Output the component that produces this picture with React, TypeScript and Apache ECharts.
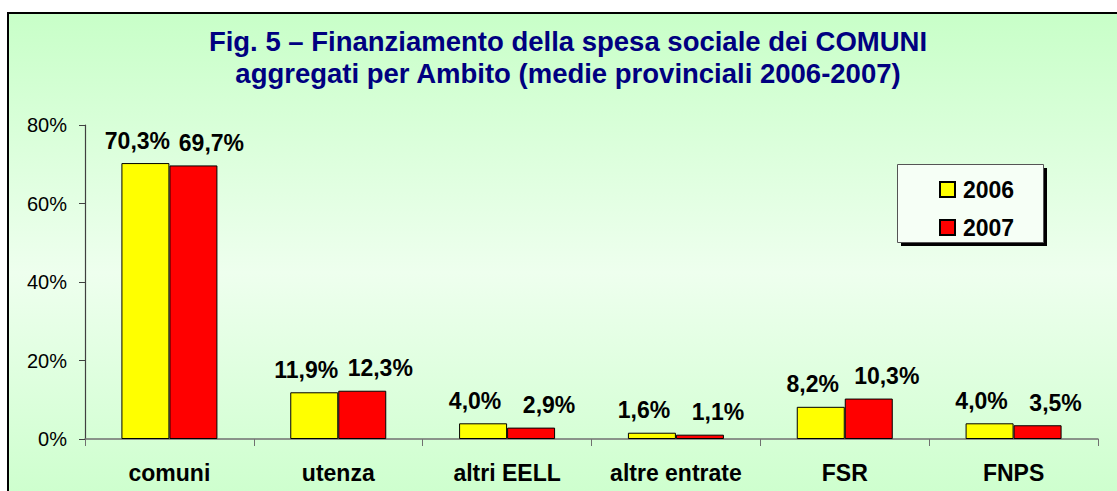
import React, { useEffect, useRef } from "react";
import * as echarts from "echarts";

const categories = ["comuni", "utenza", "altri EELL", "altre entrate", "FSR", "FNPS"];
const values2006 = [70.3, 11.9, 4.0, 1.6, 8.2, 4.0];
const values2007 = [69.7, 12.3, 2.9, 1.1, 10.3, 3.5];
const seriesNames = ["2006", "2007"];
const yTicks = { min: 0, max: 80, interval: 20 };
const titleLines = [
  "Fig. 5 – Finanziamento della spesa sociale dei COMUNI",
  "aggregati per Ambito (medie provinciali 2006-2007)",
];

const FONT = "'Liberation Sans', Arial, sans-serif";

export default function App() {
  const ref = useRef<HTMLDivElement>(null);
  useEffect(() => {
    document.body.style.margin = "0";
    document.body.style.overflow = "hidden";
    const chart = echarts.init(ref.current!, null, { renderer: "svg" });
    const fmt = (p: any) => p.value.toFixed(1).replace(".", ",") + "%";
    const labelStyle = {
      show: true,
      position: "top",
      distance: 11,
      fontFamily: FONT,
      fontWeight: "bold",
      fontSize: 23,
      color: "#000",
      formatter: fmt,
    };
    chart.setOption({
      animation: false,
      graphic: [
        {
          type: "rect",
          z: -10,
          silent: true,
          shape: { x: 8, y: 13, width: 1130, height: 520 },
          style: {
            fill: new echarts.graphic.LinearGradient(0, 0, 0, 1, [
              { offset: 0, color: "#C8FFC8" },
              { offset: 0.5, color: "#EEFFEE" },
              { offset: 1, color: "#C8FFC8" },
            ]),
            stroke: "#000",
            lineWidth: 2,
          },
        },
        {
          type: "text",
          z: 5,
          style: {
            text: titleLines.join("\n"),
            x: 568,
            y: 57,
            textAlign: "center",
            textVerticalAlign: "middle",
            font: `bold 27.5px ${FONT}`,
            lineHeight: 32,
            fill: "#000080",
          },
        },
        {
          type: "rect",
          z: 2,
          shape: { x: 901, y: 168, width: 146, height: 78 },
          style: { fill: "#000", stroke: "none" },
        },
        {
          type: "rect",
          z: 3,
          shape: { x: 897.5, y: 164.5, width: 146, height: 78 },
          style: { fill: "#F6FFF6", stroke: "#555", lineWidth: 1 },
        },
      ],
      legend: {
        orient: "vertical",
        left: 934,
        top: 173,
        itemWidth: 15,
        itemHeight: 15,
        itemGap: 15,
        icon: "rect",
        data: seriesNames,
        textStyle: {
          fontFamily: FONT,
          fontWeight: "bold",
          fontSize: 23,
          lineHeight: 23,
          color: "#000",
          padding: [0, 0, 0, 3],
        },
      },
      grid: { left: 85, right: 19, top: 125, bottom: 52 },
      xAxis: {
        type: "category",
        data: categories,
        axisLine: { lineStyle: { color: "#707070", width: 1.5 } },
        axisTick: { show: true, length: 7, lineStyle: { color: "#707070" } },
        axisLabel: {
          interval: 0,
          margin: 22,
          fontFamily: FONT,
          fontWeight: "bold",
          fontSize: 23,
          color: "#000",
        },
      },
      yAxis: {
        type: "value",
        min: yTicks.min,
        max: yTicks.max,
        interval: yTicks.interval,
        splitLine: { show: false },
        axisLine: { show: true, lineStyle: { color: "#404040", width: 1.2 } },
        axisTick: { show: true, length: 6, lineStyle: { color: "#404040" } },
        axisLabel: {
          margin: 18,
          fontFamily: FONT,
          fontSize: 20,
          color: "#000",
          formatter: "{value}%",
        },
      },
      series: [
        {
          name: seriesNames[0],
          type: "bar",
          data: values2006,
          barWidth: 48,
          barGap: "0%",
          itemStyle: { color: "#FFFF00", borderColor: "#000", borderWidth: 1 },
          label: { ...labelStyle, offset: [-8, 0] },
        },
        {
          name: seriesNames[1],
          type: "bar",
          data: values2007,
          barWidth: 48,
          barGap: "0%",
          itemStyle: { color: "#FF0000", borderColor: "#000", borderWidth: 1 },
          label: { ...labelStyle, offset: [18, 0] },
        },
      ],
    });
    return () => chart.dispose();
  }, []);
  return <div ref={ref} style={{ width: 1117, height: 491 }} />;
}
